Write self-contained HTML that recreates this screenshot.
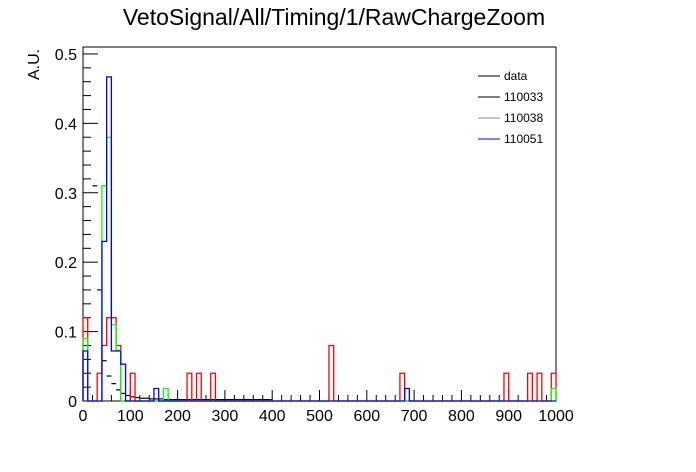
<!DOCTYPE html>
<html><head><meta charset="utf-8"><style>
body{margin:0;background:#fff}
svg{display:block;font-family:"Liberation Sans",sans-serif}
</style></head><body>
<svg id="c" width="696" height="472">
<rect width="696" height="472" fill="#fff"/>
<text x="334" y="25" font-size="23" text-anchor="middle">VetoSignal/All/Timing/1/RawChargeZoom</text>
<text transform="translate(39,80) rotate(-90)" font-size="16" text-anchor="start">A.U.</text>
<g id="axes"></g>
<g id="series"></g>
<g font-size="12">
<line x1="478" y1="76" x2="500" y2="76" stroke="#000"/><text x="504" y="80">data</text>
<line x1="478" y1="97" x2="500" y2="97" stroke="#000"/><text x="504" y="101">110033</text>
<line x1="478" y1="118" x2="500" y2="118" stroke="#888"/><text x="504" y="122">110038</text>
<line x1="478" y1="139" x2="500" y2="139" stroke="#00f"/><text x="504" y="143">110051</text>
</g>
</svg>
<script>
const xTicks=[0,100,200,300,400,500,600,700,800,900,1000];
const yTicks=[0,0.1,0.2,0.3,0.4,0.5];
const nBins=100;
const dataBins=[[2,0.31],[3,0.16],[4,0.058],[5,0.036],[6,0.025],[7,0.016],[8,0.011],[9,0.008],[10,0.006],[11,0.005],[12,0.004],[13,0.004],[14,0.003],[15,0.003],[16,0.003],[17,0.002],[18,0.002],[19,0.002],[20,0.002],[21,0.002],[22,0.002],[23,0.002],[24,0.002],[25,0.002],[26,0.002],[27,0.002],[28,0.002],[29,0.002],[30,0.002],[31,0.002],[32,0.002],[33,0.002],[34,0.002],[35,0.002],[36,0.002],[37,0.002],[38,0.002],[39,0.002]];
const redBins=[[0,0.12],[3,0.04],[4,0.08],[5,0.12],[6,0.12],[7,0.08],[10,0.04],[22,0.04],[24,0.04],[27,0.04],[52,0.08],[67,0.04],[89,0.04],[94,0.04],[96,0.04],[99,0.04]];
const greenBins=[[0,0.09],[4,0.31],[5,0.38],[6,0.11],[7,0.073],[17,0.018],[99,0.018]];
const blueBins=[[0,0.072],[4,0.23],[5,0.467],[6,0.072],[7,0.072],[8,0.053],[15,0.018],[68,0.018]];

const X0=83,X1=556,Y0=401,Ytop=47,YMAX=0.51;
const xs=v=>X0+(v/1000)*(X1-X0);
const ys=v=>Y0-(v/YMAX)*(Y0-Ytop);
const NS="http://www.w3.org/2000/svg";
function mk(t,a,p){const e=document.createElementNS(NS,t);for(const k in a)e.setAttribute(k,a[k]);p.appendChild(e);return e;}
const axes=document.getElementById('axes'),ser=document.getElementById('series');
let f=mk('rect',{x:X0,y:Ytop,width:X1-X0,height:Y0-Ytop,fill:'none',stroke:'#000'},axes);


for(let v=0;v<=1000;v+=20){const maj=v%100===0;const l=mk('line',{x1:xs(v),x2:xs(v),y1:Y0,y2:Y0-(maj?11:6),stroke:'#000'},axes);

}
xTicks.forEach(v=>{const t=mk('text',{x:xs(v),y:Y0+20,'font-size':16,'text-anchor':'middle'},axes);t.textContent=v;

});
for(let i=0;i<=25;i++){const v=i*0.02;const maj=i%5===0;const l=mk('line',{x1:X0,x2:X0+(maj?15:8),y1:ys(v),y2:ys(v),stroke:'#000'},axes);

}
yTicks.forEach(v=>{const t=mk('text',{x:X0-6,y:ys(v)+6,'font-size':16,'text-anchor':'end'},axes);t.textContent=v===0?'0':v.toFixed(1);

});
function full(sp){const a=new Array(nBins).fill(0);sp.forEach(([i,v])=>a[i]=v);return a;}
const bw=10;
dataBins.forEach(([i,v])=>{const l=mk('line',{x1:xs(i*bw),x2:xs((i+1)*bw),y1:ys(v),y2:ys(v),stroke:'#000','stroke-width':1.2},ser);

});
function hist(sp,col,name){const a=full(sp);let d='M'+xs(0)+','+ys(0);
for(let i=0;i<nBins;i++){d+=' L'+xs(i*bw)+','+ys(a[i])+' L'+xs((i+1)*bw)+','+ys(a[i]);}
d+=' L'+xs(1000)+','+ys(0);
const p=mk('path',{d:d,fill:'none',stroke:col,'stroke-width':1.3},ser);

}
hist(redBins,'#f00','hist-110033');
hist(greenBins,'#0f0','hist-110038');
hist(blueBins,'#00f','hist-110051');
</script>
</body></html>
